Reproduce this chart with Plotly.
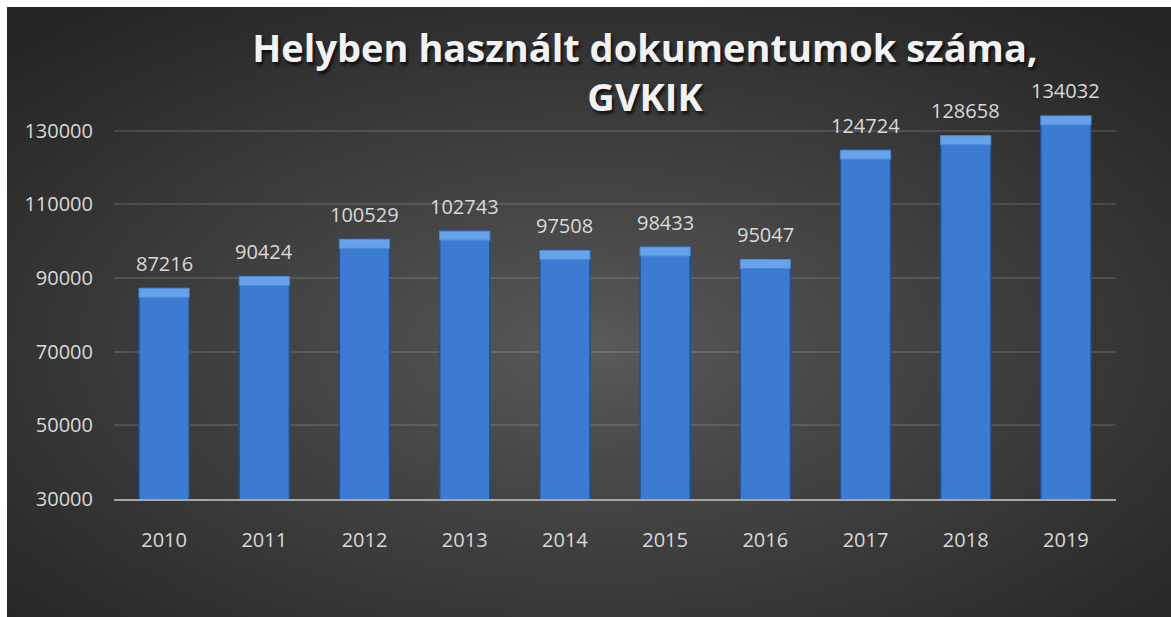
import base64
import struct
import zlib

import numpy as np
import plotly.graph_objects as go

years = ["2010", "2011", "2012", "2013", "2014", "2015", "2016", "2017", "2018", "2019"]
documents = [87216, 90424, 100529, 102743, 97508, 98433, 95047, 124724, 128658, 134032]
y_ticks = [30000, 50000, 70000, 90000, 110000, 130000]
title_text = "Helyben használt dokumentumok száma,<br>GVKIK"

W, H = 1171, 617
TEXT_COLOR = "#d9d9d9"


def gradient_png(w: int, h: int) -> str:
    """Radial dark-grey gradient as a base64 PNG data uri."""
    yy, xx = np.mgrid[0:h, 0:w]
    dx = (xx / (w - 1) - 0.5) * 2
    dy = (yy / (h - 1) - 0.55) * 2
    r = np.clip(np.sqrt(dx**2 + dy**2) / np.sqrt(2), 0, 1)
    inner, outer = 0x5C, 0x25
    val = (inner + (outer - inner) * r**0.85).astype(np.uint8)
    rgb = np.stack([val, val, val], axis=-1)
    raw = b"".join(b"\x00" + row.tobytes() for row in rgb)

    def chunk(tag, data):
        body = tag + data
        return struct.pack(">I", len(data)) + body + struct.pack(">I", zlib.crc32(body) & 0xFFFFFFFF)

    png = (
        b"\x89PNG\r\n\x1a\n"
        + chunk(b"IHDR", struct.pack(">IIBBBBB", w, h, 8, 2, 0, 0, 0))
        + chunk(b"IDAT", zlib.compress(raw, 9))
        + chunk(b"IEND", b"")
    )
    return "data:image/png;base64," + base64.b64encode(png).decode()


# plot area in pixels
left, right, top, bottom = 114, 1116, 94, 499
pw, ph = right - left, bottom - top
y_min, y_max = 30000, 140000
units_per_px = (y_max - y_min) / ph
bevel = 9 * units_per_px

# dark chart panel (white frame round it on the left and top)
panel_x0, panel_x1, panel_y0, panel_y1 = 7, W + 10, 7, H + 10

fig = go.Figure()

# bar body
fig.add_trace(
    go.Bar(
        x=years,
        y=documents,
        marker=dict(color="#3b7cd2", line=dict(color="#22528f", width=1.5)),
        hoverinfo="x+y",
        showlegend=False,
    )
)
# lighter bevel on top of each bar
fig.add_trace(
    go.Bar(
        x=years,
        y=[bevel] * len(documents),
        base=[v - bevel for v in documents],
        marker=dict(color="#66a3ea", line=dict(color="#4b8ad8", width=1)),
        hoverinfo="skip",
        showlegend=False,
    )
)

# value labels; on a category axis annotations use the category index
annotations = [
    dict(
        x=i,
        y=v,
        text=str(v),
        showarrow=False,
        yanchor="middle",
        yshift=25,
        font=dict(family="Open Sans", size=20, color=TEXT_COLOR),
    )
    for i, v in enumerate(documents)
]

fig.update_layout(
    width=W,
    height=H,
    barmode="overlay",
    bargap=0.5,
    paper_bgcolor="white",
    plot_bgcolor="rgba(0,0,0,0)",
    margin=dict(l=left, r=W - right, t=top, b=H - bottom, autoexpand=False),
    title=dict(
        text=title_text,
        x=645 / W,
        xanchor="center",
        xref="container",
        y=1 - 62 / H,
        yanchor="top",
        font=dict(
            family="Open Sans",
            size=38,
            weight="bold",
            color="#f2f2f2",
            shadow="2px 3px 3px rgba(0,0,0,0.7)",
        ),
    ),
    xaxis=dict(
        type="category",
        range=[-0.5, len(years) - 0.5],
        showline=True,
        linecolor="#a6a6a6",
        linewidth=2,
        showgrid=False,
        ticks="",
        ticklabelstandoff=22,
        tickfont=dict(family="Open Sans", size=20, color=TEXT_COLOR),
    ),
    yaxis=dict(
        range=[y_min, y_max],
        tickvals=y_ticks,
        tickformat="d",
        showgrid=True,
        gridcolor="rgba(255,255,255,0.12)",
        gridwidth=1.5,
        zeroline=False,
        showline=False,
        ticks="",
        ticklabelstandoff=20,
        tickfont=dict(family="Open Sans", size=20, color=TEXT_COLOR),
    ),
    annotations=annotations,
    images=[
        dict(
            source=gradient_png(290, 152),
            xref="paper",
            yref="paper",
            x=(panel_x0 - left) / pw,
            y=(bottom - panel_y0) / ph,
            sizex=(panel_x1 - panel_x0) / pw,
            sizey=(panel_y1 - panel_y0) / ph,
            xanchor="left",
            yanchor="top",
            sizing="stretch",
            layer="below",
        )
    ],
)

# drop the default page margin so the figure sits at the window's corner
fig.write_html(
    "out.html",
    config={"displayModeBar": False},
    post_script="document.body.style.margin='0';document.body.style.overflow='hidden';",
)
